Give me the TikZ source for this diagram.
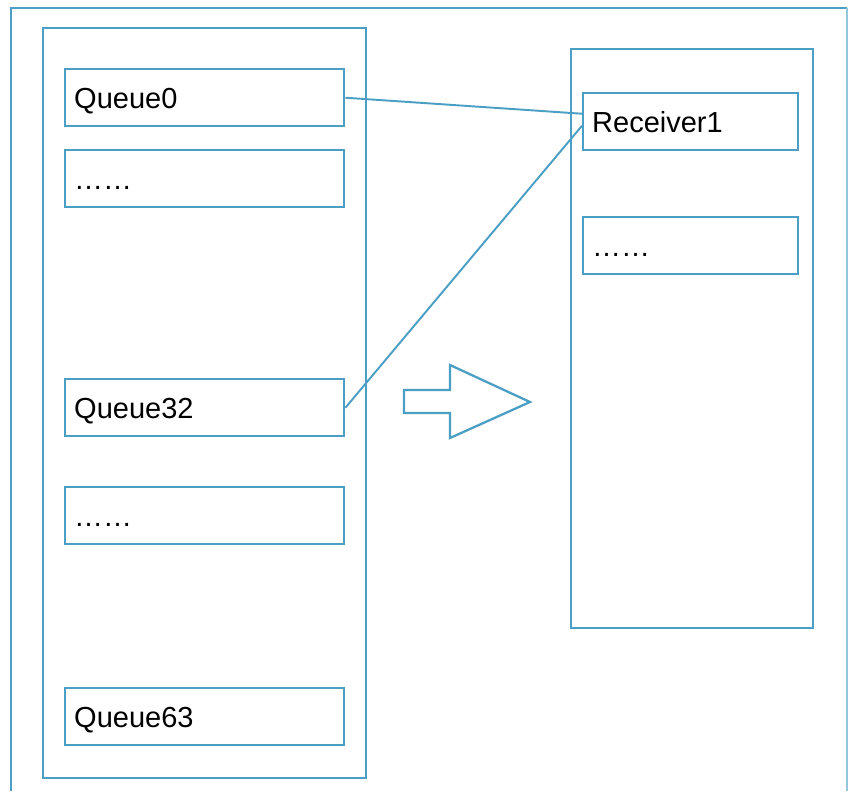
\documentclass[tikz,border=0pt]{standalone}
\usepackage{fontspec}
\setmainfont{Liberation Sans}
\usetikzlibrary{positioning, calc}
\definecolor{lineblue}{RGB}{75,158,196}

\begin{document}
\begin{tikzpicture}[x=0.02cm, y=-0.02cm,
    panel/.style={draw=lineblue, line width=1.4pt, anchor=north west, inner sep=0pt},
    slot/.style={draw=lineblue, line width=1.4pt, anchor=north west, minimum height=1.14cm,
        inner xsep=0.18cm, inner ysep=0pt, text width=5.22cm, align=left,
        text height=15pt, text depth=2.6pt,
        font=\fontsize{16.5}{20}\selectfont},
    link/.style={draw=lineblue, line width=1.1pt}]
    \useasboundingbox (0,0) rectangle (848,791);

    % outer frame, open at the bottom
    \draw[lineblue, line width=1.2pt] (11,791) -- (11,8) -- (847,8);
    \draw[lineblue!60, line width=0.8pt] (847,8) -- (847,791);

    % queues
    \node[panel, minimum width=6.46cm, minimum height=15cm] (queues) at (42,27) {};
    \node[slot] (q0) at (64,68) {Queue0};
    \node[slot] (dots_a) at (64,149) {……};
    \node[slot] (q32) at (64,378) {Queue32};
    \node[slot] (dots_b) at (64,486) {……};
    \node[slot] (q63) at (64,687) {Queue63};

    % receivers
    \node[panel, minimum width=4.84cm, minimum height=11.58cm] (receivers) at (570,48) {};
    \node[slot, text width=3.94cm] (rcv1) at (582,92) {Receiver1};
    \node[slot, text width=3.94cm] (dots_c) at (582,216) {……};

    \draw[link] (q0.east) -- ([yshift=0.16cm]rcv1.west);
    \draw[link] (q32.east) -- ([yshift=-0.08cm]rcv1.west);

    % hollow arrow
    \draw[lineblue, line width=1.3pt] (404,390) -- (450,390) -- (450,365) -- (530,402)
        -- (450,438) -- (450,413) -- (404,413) -- cycle;
\end{tikzpicture}
\end{document}
